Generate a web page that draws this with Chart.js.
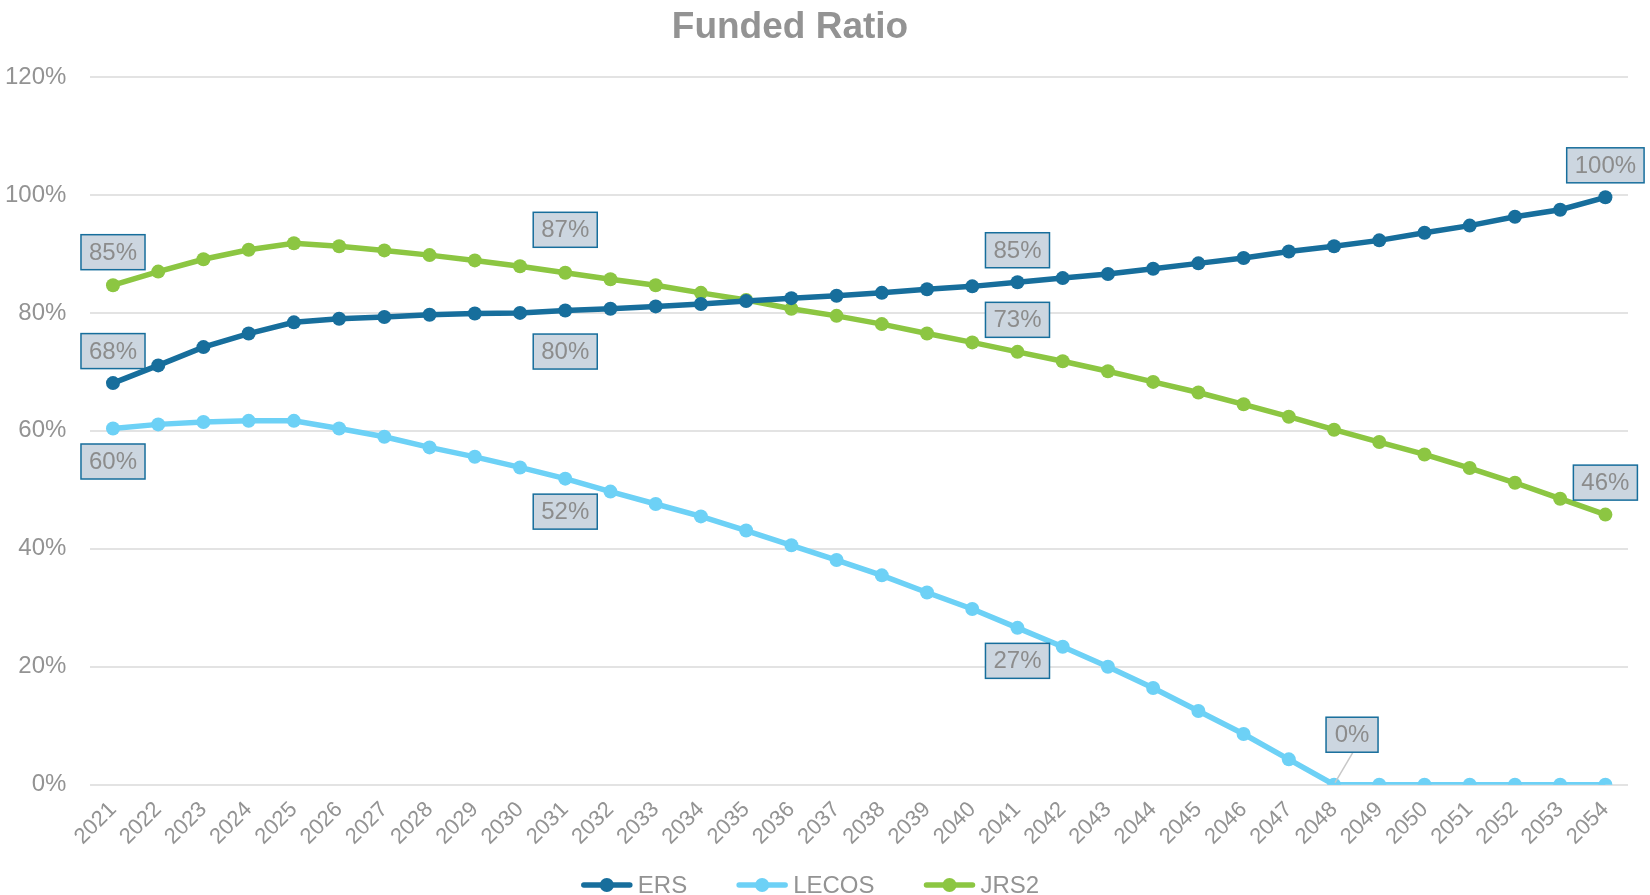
<!DOCTYPE html>
<html>
<head>
<meta charset="utf-8">
<script src="https://cdn.jsdelivr.net/npm/chart.js@4"></script>
<style>
  html, body { margin: 0; padding: 0; background: #fff; }
  #wrap { width: 1650px; height: 895px; }
</style>
</head>
<body>
<div id="wrap"><canvas id="graficoFunded" width="1650" height="895"></canvas></div>
<script>
const anos = [];
for (let a = 2021; a <= 2054; a++) anos.push(String(a));

const ers = [68.1, 71.1, 74.2, 76.5, 78.4, 79.0, 79.3, 79.7, 79.9, 80.0, 80.4, 80.7, 81.1, 81.5,
  82.0, 82.5, 82.9, 83.4, 84.0, 84.5, 85.2, 85.9, 86.6, 87.5, 88.4, 89.3, 90.4, 91.3, 92.3,
  93.6, 94.8, 96.3, 97.5, 99.6];
const lecos = [60.4, 61.1, 61.5, 61.7, 61.7, 60.4, 59.0, 57.2, 55.6, 53.8, 51.9, 49.7, 47.6, 45.5,
  43.1, 40.6, 38.1, 35.5, 32.6, 29.8, 26.6, 23.4, 20.0, 16.4, 12.5, 8.6, 4.3, 0, 0,
  0, 0, 0, 0, 0];
const jrs2 = [84.7, 87.0, 89.1, 90.7, 91.8, 91.3, 90.6, 89.8, 88.9, 87.9, 86.8, 85.7, 84.7, 83.4,
  82.2, 80.7, 79.5, 78.1, 76.5, 75.0, 73.4, 71.8, 70.1, 68.3, 66.5, 64.5, 62.4, 60.2, 58.1,
  56.0, 53.7, 51.2, 48.5, 45.8];

const yTicks = [0, 20, 40, 60, 80, 100, 120];

// quais pontos recebem rótulo (índices por série)
const rotulosERS = [0, 10, 20, 33];
const rotulosLECOS = [0, 10, 20, 27];
const rotulosJRS2 = [0, 10, 20, 33];

const cores = { ers: "#176e9c", lecos: "#6dd1f6", jrs2: "#8cc642" };
const cinza = "#939393";
const fonte = "'Liberation Sans', Arial, sans-serif";

// deslocamento de cada rótulo [dx, dy] (dy negativo = acima)
const posRotulos = [
  { 0: [0, -32], 10: [0, 41], 20: [0, -32], 33: [0, -32] },
  { 0: [0, 33], 10: [0, 33], 20: [0, 33], 27: [18, -50] },
  { 0: [0, -33], 10: [0, -43], 20: [0, -32], 33: [0, -32] }
];

const pluginRotulos = {
  id: "rotulos",
  afterDatasetsDraw(chart) {
    const ctx = chart.ctx;
    const listas = [rotulosERS, rotulosLECOS, rotulosJRS2];
    ctx.save();
    ctx.font = "24px " + fonte;
    ctx.textAlign = "center";
    ctx.textBaseline = "middle";
    listas.forEach((idxs, s) => {
      const meta = chart.getDatasetMeta(s);
      const valores = chart.data.datasets[s].data;
      idxs.forEach(i => {
        const p = meta.data[i];
        const [dx, dy] = posRotulos[s][i];
        const cx = p.x + dx, cy = p.y + dy;
        const txt = Math.round(valores[i]) + "%";
        const w = Math.max(ctx.measureText(txt).width + 16, 52);
        const h = 35;
        if (Math.abs(dy) > 45) {
          // linha guia até o ponto
          ctx.strokeStyle = "#c8c8c8";
          ctx.lineWidth = 1.5;
          ctx.beginPath();
          ctx.moveTo(cx + 1, cy + h / 2);
          ctx.lineTo(p.x + 1, p.y - 2);
          ctx.stroke();
        }
        ctx.fillStyle = "#ccd6e0";
        ctx.fillRect(cx - w / 2, cy - h / 2, w, h);
        ctx.strokeStyle = cores.ers;
        ctx.lineWidth = 1.5;
        ctx.strokeRect(cx - w / 2, cy - h / 2, w, h);
        ctx.fillStyle = "#8c8c8c";
        ctx.fillText(txt, cx, cy + 1);
      });
    });
    ctx.restore();
  }
};

// título desenhado à mão (centralizado um pouco à esquerda, como no original)
const pluginTitulo = {
  id: "titulo",
  afterDraw(chart) {
    const ctx = chart.ctx;
    ctx.save();
    ctx.font = "bold 37px " + fonte;
    ctx.fillStyle = cinza;
    ctx.textAlign = "center";
    ctx.textBaseline = "middle";
    ctx.fillText("Funded Ratio", 790, 28);
    ctx.restore();
  }
};

// legenda desenhada à mão: linha + bolinha, texto colado
const pluginLegenda = {
  id: "legendaLinha",
  afterDraw(chart) {
    const ctx = chart.ctx;
    const ds = chart.data.datasets;
    ctx.save();
    ctx.font = "24px " + fonte;
    ctx.textBaseline = "middle";
    const marc = 52, gap = 5, entre = 49;
    const larguras = ds.map(d => marc + gap + ctx.measureText(d.label).width);
    const total = larguras.reduce((a, b) => a + b, 0) + entre * (ds.length - 1);
    let x = (chart.width - total) / 2 - 15;
    const y = 885;
    ds.forEach((d, i) => {
      ctx.strokeStyle = d.borderColor;
      ctx.lineWidth = 5.5;
      ctx.lineCap = "round";
      ctx.beginPath(); ctx.moveTo(x + 3, y); ctx.lineTo(x + marc - 3, y); ctx.stroke();
      ctx.fillStyle = d.borderColor;
      ctx.beginPath(); ctx.arc(x + marc / 2, y, 7, 0, Math.PI * 2); ctx.fill();
      ctx.fillStyle = cinza;
      ctx.textAlign = "left";
      ctx.fillText(d.label, x + marc + gap, y + 1);
      x += larguras[i] + entre;
    });
    ctx.restore();
  }
};

const ctx = document.getElementById("graficoFunded").getContext("2d");

function serie(label, dados, cor) {
  return {
    label,
    data: dados,
    borderColor: cor,
    backgroundColor: cor,
    borderWidth: 5.5,
    pointRadius: 7,
    pointHoverRadius: 7,
    pointBorderWidth: 0,
    tension: 0
  };
}

new Chart(ctx, {
  type: "line",
  data: {
    labels: anos,
    datasets: [
      serie("ERS", ers, cores.ers),
      serie("LECOS", lecos, cores.lecos),
      serie("JRS2", jrs2, cores.jrs2)
    ]
  },
  options: {
    responsive: false,
    animation: false,
    layout: { padding: { left: -19, right: 22, top: 77, bottom: 41 } },
    scales: {
      x: {
        offset: true,
        grid: { display: false },
        border: { display: false },
        ticks: {
          color: cinza,
          font: { size: 22, family: fonte },
          minRotation: 45,
          maxRotation: 45,
          autoSkip: false,
          padding: 4
        }
      },
      y: {
        min: 0,
        max: 120,
        afterBuildTicks(axis) { axis.ticks = yTicks.map(v => ({ value: v })); },
        grid: { color: "#e3e3e3", lineWidth: 2, drawTicks: false },
        border: { display: false },
        ticks: {
          color: cinza,
          padding: 24,
          font: { size: 24, family: fonte },
          callback: v => v + "%"
        }
      }
    },
    plugins: {
      title: { display: false },
      legend: { display: false },
      tooltip: { enabled: false }
    }
  },
  plugins: [pluginRotulos, pluginTitulo, pluginLegenda]
});
</script>
</body>
</html>
